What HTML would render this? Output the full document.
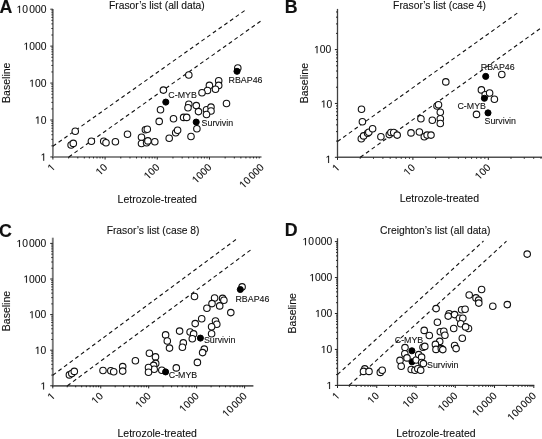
<!DOCTYPE html>
<html><head><meta charset="utf-8"><style>
html,body{margin:0;padding:0;background:#fff;width:542px;height:439px;overflow:hidden}
svg{display:block;filter:grayscale(1)}
text{font-family:"Liberation Sans",sans-serif;fill:#111;stroke:#111;stroke-width:0.1px}
</style></head><body>
<svg width="542" height="439" viewBox="0 0 542 439">
<defs><path id="one" fill="#111" stroke="#111" stroke-width="0.0097" d="M0.2515 0V-0.604L0.0962 -0.4932V-0.5762L0.2588 -0.688H0.3398V0Z"/></defs>
<rect width="542" height="439" fill="#fff"/>
<path d="M52.90,9.00V157.55" stroke="#7d7d7d" stroke-width="1.8" fill="none"/>
<path d="M52.30,156.95H261.50" stroke="#8a8a8a" stroke-width="1.9" fill="none"/>
<path d="M52.90,156.95v2.6M52.90,156.95h-2.6M68.61,156.95v1.5M52.90,145.83h-1.5M77.80,156.95v1.5M52.90,139.33h-1.5M84.32,156.95v1.5M52.90,134.71h-1.5M89.37,156.95v1.5M52.90,131.13h-1.5M93.50,156.95v1.5M52.90,128.21h-1.5M97.00,156.95v1.5M52.90,125.73h-1.5M100.02,156.95v1.5M52.90,123.59h-1.5M102.69,156.95v1.5M52.90,121.70h-1.5M105.08,156.95v2.6M52.90,120.01h-2.6M120.79,156.95v1.5M52.90,108.89h-1.5M129.98,156.95v1.5M52.90,102.39h-1.5M136.50,156.95v1.5M52.90,97.77h-1.5M141.55,156.95v1.5M52.90,94.19h-1.5M145.68,156.95v1.5M52.90,91.27h-1.5M149.18,156.95v1.5M52.90,88.79h-1.5M152.20,156.95v1.5M52.90,86.65h-1.5M154.87,156.95v1.5M52.90,84.76h-1.5M157.26,156.95v2.6M52.90,83.07h-2.6M172.97,156.95v1.5M52.90,71.95h-1.5M182.16,156.95v1.5M52.90,65.45h-1.5M188.68,156.95v1.5M52.90,60.83h-1.5M193.73,156.95v1.5M52.90,57.25h-1.5M197.86,156.95v1.5M52.90,54.33h-1.5M201.36,156.95v1.5M52.90,51.85h-1.5M204.38,156.95v1.5M52.90,49.71h-1.5M207.05,156.95v1.5M52.90,47.82h-1.5M209.44,156.95v2.6M52.90,46.13h-2.6M225.15,156.95v1.5M52.90,35.01h-1.5M234.34,156.95v1.5M52.90,28.51h-1.5M240.86,156.95v1.5M52.90,23.89h-1.5M245.91,156.95v1.5M52.90,20.31h-1.5M250.04,156.95v1.5M52.90,17.39h-1.5M253.54,156.95v1.5M52.90,14.91h-1.5M256.56,156.95v1.5M52.90,12.77h-1.5M259.23,156.95v1.5M52.90,10.88h-1.5M52.90,9.19h-2.6" stroke="#222" stroke-width="1" fill="none"/>
<g transform="translate(46.40 160.65)"><use href="#one" transform="translate(-5.73 0) scale(10.3)"/></g>
<g transform="translate(46.40 123.71)"><use href="#one" transform="translate(-11.46 0) scale(10.3)"/><text x="0" y="0" text-anchor="end" font-size="10.3">0</text></g>
<g transform="translate(46.40 86.77)"><use href="#one" transform="translate(-17.19 0) scale(10.3)"/><text x="0" y="0" text-anchor="end" font-size="10.3">00</text></g>
<g transform="translate(46.40 49.83)"><use href="#one" transform="translate(-22.91 0) scale(10.3)"/><text x="0" y="0" text-anchor="end" font-size="10.3">000</text></g>
<g transform="translate(46.40 12.89)"><use href="#one" transform="translate(-29.84 0) scale(10.3)"/><text x="0" y="0" text-anchor="end" font-size="10.3">0<tspan dx="1.2">000</tspan></text></g>
<g transform="translate(55.85 167.90) rotate(-45)"><use href="#one" transform="translate(-5.73 0) scale(10.3)"/></g>
<g transform="translate(108.03 167.90) rotate(-45)"><use href="#one" transform="translate(-11.46 0) scale(10.3)"/><text x="0" y="0" text-anchor="end" font-size="10.3">0</text></g>
<g transform="translate(160.21 167.90) rotate(-45)"><use href="#one" transform="translate(-17.19 0) scale(10.3)"/><text x="0" y="0" text-anchor="end" font-size="10.3">00</text></g>
<g transform="translate(212.39 167.90) rotate(-45)"><use href="#one" transform="translate(-22.91 0) scale(10.3)"/><text x="0" y="0" text-anchor="end" font-size="10.3">000</text></g>
<g transform="translate(264.57 167.90) rotate(-45)"><use href="#one" transform="translate(-29.84 0) scale(10.3)"/><text x="0" y="0" text-anchor="end" font-size="10.3">0<tspan dx="1.2">000</tspan></text></g>
<text x="156.9" y="9.3" text-anchor="middle" font-size="10.3">Frasor’s list (all data)</text>
<text x="157.25" y="202.6" text-anchor="middle" font-size="10.5">Letrozole-treated</text>
<text x="9.7" y="82.75" text-anchor="middle" font-size="10.5" transform="rotate(-90 9.7 82.75)">Baseline</text>
<text x="-0.57" y="12.5" font-size="17.8" font-weight="bold">A</text>
<path d="M52.9,146.3L244.9,10.4" stroke="#111" stroke-width="1.1" stroke-dasharray="3.9 3.1" fill="none"/>
<path d="M68.8,156.95L261.1,20.8" stroke="#111" stroke-width="1.1" stroke-dasharray="3.9 3.1" fill="none"/>
<circle cx="75.25" cy="131.2" r="3.25" fill="#fff" stroke="#111" stroke-width="1.1"/>
<circle cx="71.1" cy="145.0" r="3.25" fill="#fff" stroke="#111" stroke-width="1.1"/>
<circle cx="73.3" cy="143.4" r="3.25" fill="#fff" stroke="#111" stroke-width="1.1"/>
<circle cx="91.4" cy="141.2" r="3.25" fill="#fff" stroke="#111" stroke-width="1.1"/>
<circle cx="103.7" cy="141.2" r="3.25" fill="#fff" stroke="#111" stroke-width="1.1"/>
<circle cx="106.0" cy="142.8" r="3.25" fill="#fff" stroke="#111" stroke-width="1.1"/>
<circle cx="115.4" cy="141.8" r="3.25" fill="#fff" stroke="#111" stroke-width="1.1"/>
<circle cx="127.5" cy="134.3" r="3.25" fill="#fff" stroke="#111" stroke-width="1.1"/>
<circle cx="141.5" cy="137.3" r="3.25" fill="#fff" stroke="#111" stroke-width="1.1"/>
<circle cx="141.5" cy="143.5" r="3.25" fill="#fff" stroke="#111" stroke-width="1.1"/>
<circle cx="145.4" cy="129.8" r="3.25" fill="#fff" stroke="#111" stroke-width="1.1"/>
<circle cx="147.3" cy="129.3" r="3.25" fill="#fff" stroke="#111" stroke-width="1.1"/>
<circle cx="146.6" cy="142.7" r="3.25" fill="#fff" stroke="#111" stroke-width="1.1"/>
<circle cx="147.9" cy="140.9" r="3.25" fill="#fff" stroke="#111" stroke-width="1.1"/>
<circle cx="154.8" cy="141.8" r="3.25" fill="#fff" stroke="#111" stroke-width="1.1"/>
<circle cx="159.2" cy="121.4" r="3.25" fill="#fff" stroke="#111" stroke-width="1.1"/>
<circle cx="160.5" cy="109.8" r="3.25" fill="#fff" stroke="#111" stroke-width="1.1"/>
<circle cx="169.2" cy="138.3" r="3.25" fill="#fff" stroke="#111" stroke-width="1.1"/>
<circle cx="173.5" cy="118.8" r="3.25" fill="#fff" stroke="#111" stroke-width="1.1"/>
<circle cx="175.7" cy="132.8" r="3.25" fill="#fff" stroke="#111" stroke-width="1.1"/>
<circle cx="177.6" cy="130.2" r="3.25" fill="#fff" stroke="#111" stroke-width="1.1"/>
<circle cx="183.6" cy="117.4" r="3.25" fill="#fff" stroke="#111" stroke-width="1.1"/>
<circle cx="163.4" cy="90.1" r="3.25" fill="#fff" stroke="#111" stroke-width="1.1"/>
<circle cx="188.8" cy="75.0" r="3.25" fill="#fff" stroke="#111" stroke-width="1.1"/>
<circle cx="237.8" cy="68.0" r="3.25" fill="#fff" stroke="#111" stroke-width="1.1"/>
<circle cx="218.7" cy="80.8" r="3.25" fill="#fff" stroke="#111" stroke-width="1.1"/>
<circle cx="218.7" cy="85.4" r="3.25" fill="#fff" stroke="#111" stroke-width="1.1"/>
<circle cx="209.4" cy="85.4" r="3.25" fill="#fff" stroke="#111" stroke-width="1.1"/>
<circle cx="207.5" cy="90.5" r="3.25" fill="#fff" stroke="#111" stroke-width="1.1"/>
<circle cx="215.5" cy="89.2" r="3.25" fill="#fff" stroke="#111" stroke-width="1.1"/>
<circle cx="202.0" cy="92.8" r="3.25" fill="#fff" stroke="#111" stroke-width="1.1"/>
<circle cx="226.5" cy="103.5" r="3.25" fill="#fff" stroke="#111" stroke-width="1.1"/>
<circle cx="188.8" cy="104.3" r="3.25" fill="#fff" stroke="#111" stroke-width="1.1"/>
<circle cx="196.3" cy="105.6" r="3.25" fill="#fff" stroke="#111" stroke-width="1.1"/>
<circle cx="188.0" cy="107.7" r="3.25" fill="#fff" stroke="#111" stroke-width="1.1"/>
<circle cx="198.5" cy="111.6" r="3.25" fill="#fff" stroke="#111" stroke-width="1.1"/>
<circle cx="206.5" cy="109.7" r="3.25" fill="#fff" stroke="#111" stroke-width="1.1"/>
<circle cx="211.0" cy="107.1" r="3.25" fill="#fff" stroke="#111" stroke-width="1.1"/>
<circle cx="211.0" cy="111.0" r="3.25" fill="#fff" stroke="#111" stroke-width="1.1"/>
<circle cx="206.5" cy="114.5" r="3.25" fill="#fff" stroke="#111" stroke-width="1.1"/>
<circle cx="186.7" cy="117.4" r="3.25" fill="#fff" stroke="#111" stroke-width="1.1"/>
<circle cx="196.9" cy="128.8" r="3.25" fill="#fff" stroke="#111" stroke-width="1.1"/>
<circle cx="191.0" cy="136.5" r="3.25" fill="#fff" stroke="#111" stroke-width="1.1"/>
<circle cx="165.8" cy="102.1" r="3.05" fill="#000" stroke="#000" stroke-width="1.0"/>
<circle cx="237.0" cy="71.3" r="3.05" fill="#000" stroke="#000" stroke-width="1.0"/>
<circle cx="196.2" cy="122.1" r="3.05" fill="#000" stroke="#000" stroke-width="1.0"/>
<path d="M337.50,8.90V157.90" stroke="#404040" stroke-width="1.3" fill="none"/>
<path d="M336.90,157.30H542.00" stroke="#505050" stroke-width="1.5" fill="none"/>
<path d="M337.50,157.30v2.6M337.50,157.30h-2.6M360.20,157.30v1.5M337.50,141.09h-1.5M373.47,157.30v1.5M337.50,131.61h-1.5M382.90,157.30v1.5M337.50,124.88h-1.5M390.20,157.30v1.5M337.50,119.66h-1.5M396.17,157.30v1.5M337.50,115.40h-1.5M401.22,157.30v1.5M337.50,111.79h-1.5M405.59,157.30v1.5M337.50,108.67h-1.5M409.45,157.30v1.5M337.50,105.91h-1.5M412.90,157.30v2.6M337.50,103.45h-2.6M435.60,157.30v1.5M337.50,87.24h-1.5M448.87,157.30v1.5M337.50,77.76h-1.5M458.30,157.30v1.5M337.50,71.03h-1.5M465.60,157.30v1.5M337.50,65.81h-1.5M471.57,157.30v1.5M337.50,61.55h-1.5M476.62,157.30v1.5M337.50,57.94h-1.5M480.99,157.30v1.5M337.50,54.82h-1.5M484.85,157.30v1.5M337.50,52.06h-1.5M488.30,157.30v2.6M337.50,49.60h-2.6M511.00,157.30v1.5M337.50,33.39h-1.5M524.27,157.30v1.5M337.50,23.91h-1.5M533.70,157.30v1.5M337.50,17.18h-1.5M541.00,157.30v1.5M337.50,11.96h-1.5" stroke="#222" stroke-width="1" fill="none"/>
<g transform="translate(331.30 162.90)"><use href="#one" transform="translate(-5.73 0) scale(10.3)"/></g>
<g transform="translate(332.30 107.55)"><use href="#one" transform="translate(-11.46 0) scale(10.3)"/><text x="0" y="0" text-anchor="end" font-size="10.3">0</text></g>
<g transform="translate(331.20 53.20)"><use href="#one" transform="translate(-17.19 0) scale(10.3)"/><text x="0" y="0" text-anchor="end" font-size="10.3">00</text></g>
<g transform="translate(340.45 168.25) rotate(-45)"><use href="#one" transform="translate(-5.73 0) scale(10.3)"/></g>
<g transform="translate(415.85 168.25) rotate(-45)"><use href="#one" transform="translate(-11.46 0) scale(10.3)"/><text x="0" y="0" text-anchor="end" font-size="10.3">0</text></g>
<g transform="translate(491.25 168.25) rotate(-45)"><use href="#one" transform="translate(-17.19 0) scale(10.3)"/><text x="0" y="0" text-anchor="end" font-size="10.3">00</text></g>
<text x="439.55" y="9.3" text-anchor="middle" font-size="10.3">Frasor’s list (case 4)</text>
<text x="439.35" y="202.3" text-anchor="middle" font-size="10.5">Letrozole-treated</text>
<text x="308.0" y="83.15" text-anchor="middle" font-size="10.5" transform="rotate(-90 308.0 83.15)">Baseline</text>
<text x="284.7" y="12.5" font-size="17.8" font-weight="bold">B</text>
<path d="M337.5,141.5L518.9,12.0" stroke="#111" stroke-width="1.1" stroke-dasharray="3.9 3.1" fill="none"/>
<path d="M360.3,157.3L546,24.4" stroke="#111" stroke-width="1.1" stroke-dasharray="3.9 3.1" fill="none"/>
<circle cx="361.5" cy="109.3" r="3.25" fill="#fff" stroke="#111" stroke-width="1.1"/>
<circle cx="362.4" cy="121.7" r="3.25" fill="#fff" stroke="#111" stroke-width="1.1"/>
<circle cx="361.3" cy="138.8" r="3.25" fill="#fff" stroke="#111" stroke-width="1.1"/>
<circle cx="363.6" cy="135.9" r="3.25" fill="#fff" stroke="#111" stroke-width="1.1"/>
<circle cx="367.6" cy="133.2" r="3.25" fill="#fff" stroke="#111" stroke-width="1.1"/>
<circle cx="368.8" cy="132.2" r="3.25" fill="#fff" stroke="#111" stroke-width="1.1"/>
<circle cx="372.6" cy="128.8" r="3.25" fill="#fff" stroke="#111" stroke-width="1.1"/>
<circle cx="380.9" cy="136.8" r="3.25" fill="#fff" stroke="#111" stroke-width="1.1"/>
<circle cx="389.3" cy="134.6" r="3.25" fill="#fff" stroke="#111" stroke-width="1.1"/>
<circle cx="390.9" cy="132.5" r="3.25" fill="#fff" stroke="#111" stroke-width="1.1"/>
<circle cx="393.7" cy="132.5" r="3.25" fill="#fff" stroke="#111" stroke-width="1.1"/>
<circle cx="397.2" cy="135.1" r="3.25" fill="#fff" stroke="#111" stroke-width="1.1"/>
<circle cx="411.0" cy="132.9" r="3.25" fill="#fff" stroke="#111" stroke-width="1.1"/>
<circle cx="419.4" cy="132.0" r="3.25" fill="#fff" stroke="#111" stroke-width="1.1"/>
<circle cx="424.3" cy="136.8" r="3.25" fill="#fff" stroke="#111" stroke-width="1.1"/>
<circle cx="427.1" cy="135.1" r="3.25" fill="#fff" stroke="#111" stroke-width="1.1"/>
<circle cx="431.0" cy="135.1" r="3.25" fill="#fff" stroke="#111" stroke-width="1.1"/>
<circle cx="420.9" cy="118.7" r="3.25" fill="#fff" stroke="#111" stroke-width="1.1"/>
<circle cx="432.3" cy="120.3" r="3.25" fill="#fff" stroke="#111" stroke-width="1.1"/>
<circle cx="437.0" cy="106.0" r="3.25" fill="#fff" stroke="#111" stroke-width="1.1"/>
<circle cx="438.5" cy="104.8" r="3.25" fill="#fff" stroke="#111" stroke-width="1.1"/>
<circle cx="440.3" cy="112.3" r="3.25" fill="#fff" stroke="#111" stroke-width="1.1"/>
<circle cx="440.3" cy="118.7" r="3.25" fill="#fff" stroke="#111" stroke-width="1.1"/>
<circle cx="440.3" cy="123.5" r="3.25" fill="#fff" stroke="#111" stroke-width="1.1"/>
<circle cx="445.8" cy="81.9" r="3.25" fill="#fff" stroke="#111" stroke-width="1.1"/>
<circle cx="481.4" cy="89.9" r="3.25" fill="#fff" stroke="#111" stroke-width="1.1"/>
<circle cx="485.2" cy="94.7" r="3.25" fill="#fff" stroke="#111" stroke-width="1.1"/>
<circle cx="489.6" cy="93.0" r="3.25" fill="#fff" stroke="#111" stroke-width="1.1"/>
<circle cx="494.4" cy="99.3" r="3.25" fill="#fff" stroke="#111" stroke-width="1.1"/>
<circle cx="476.5" cy="114.4" r="3.25" fill="#fff" stroke="#111" stroke-width="1.1"/>
<circle cx="501.8" cy="74.5" r="3.25" fill="#fff" stroke="#111" stroke-width="1.1"/>
<circle cx="485.7" cy="76.4" r="3.05" fill="#000" stroke="#000" stroke-width="1.0"/>
<circle cx="484.4" cy="98.3" r="3.05" fill="#000" stroke="#000" stroke-width="1.0"/>
<circle cx="488.0" cy="112.9" r="3.05" fill="#000" stroke="#000" stroke-width="1.0"/>
<path d="M52.80,237.70V386.40" stroke="#7a7a7a" stroke-width="1.9" fill="none"/>
<path d="M52.20,385.80H253.40" stroke="#5a5a5a" stroke-width="1.7" fill="none"/>
<path d="M52.80,385.80v2.6M52.80,385.80h-2.6M67.23,385.80v1.5M52.80,375.08h-1.5M75.68,385.80v1.5M52.80,368.81h-1.5M81.67,385.80v1.5M52.80,364.37h-1.5M86.32,385.80v1.5M52.80,360.92h-1.5M90.11,385.80v1.5M52.80,358.10h-1.5M93.32,385.80v1.5M52.80,355.71h-1.5M96.10,385.80v1.5M52.80,353.65h-1.5M98.56,385.80v1.5M52.80,351.83h-1.5M100.75,385.80v2.6M52.80,350.20h-2.6M115.18,385.80v1.5M52.80,339.48h-1.5M123.63,385.80v1.5M52.80,333.21h-1.5M129.62,385.80v1.5M52.80,328.77h-1.5M134.27,385.80v1.5M52.80,325.32h-1.5M138.06,385.80v1.5M52.80,322.50h-1.5M141.27,385.80v1.5M52.80,320.11h-1.5M144.05,385.80v1.5M52.80,318.05h-1.5M146.51,385.80v1.5M52.80,316.23h-1.5M148.70,385.80v2.6M52.80,314.60h-2.6M163.13,385.80v1.5M52.80,303.88h-1.5M171.58,385.80v1.5M52.80,297.61h-1.5M177.57,385.80v1.5M52.80,293.17h-1.5M182.22,385.80v1.5M52.80,289.72h-1.5M186.01,385.80v1.5M52.80,286.90h-1.5M189.22,385.80v1.5M52.80,284.51h-1.5M192.00,385.80v1.5M52.80,282.45h-1.5M194.46,385.80v1.5M52.80,280.63h-1.5M196.65,385.80v2.6M52.80,279.00h-2.6M211.08,385.80v1.5M52.80,268.28h-1.5M219.53,385.80v1.5M52.80,262.01h-1.5M225.52,385.80v1.5M52.80,257.57h-1.5M230.17,385.80v1.5M52.80,254.12h-1.5M233.96,385.80v1.5M52.80,251.30h-1.5M237.17,385.80v1.5M52.80,248.91h-1.5M239.95,385.80v1.5M52.80,246.85h-1.5M242.41,385.80v1.5M52.80,245.03h-1.5M244.60,385.80v2.6M52.80,243.40h-2.6" stroke="#222" stroke-width="1" fill="none"/>
<g transform="translate(46.30 389.50)"><use href="#one" transform="translate(-5.73 0) scale(10.3)"/></g>
<g transform="translate(46.30 353.90)"><use href="#one" transform="translate(-11.46 0) scale(10.3)"/><text x="0" y="0" text-anchor="end" font-size="10.3">0</text></g>
<g transform="translate(46.30 318.30)"><use href="#one" transform="translate(-17.19 0) scale(10.3)"/><text x="0" y="0" text-anchor="end" font-size="10.3">00</text></g>
<g transform="translate(46.30 282.70)"><use href="#one" transform="translate(-22.91 0) scale(10.3)"/><text x="0" y="0" text-anchor="end" font-size="10.3">000</text></g>
<g transform="translate(46.30 247.10)"><use href="#one" transform="translate(-29.84 0) scale(10.3)"/><text x="0" y="0" text-anchor="end" font-size="10.3">0<tspan dx="1.2">000</tspan></text></g>
<g transform="translate(55.75 396.75) rotate(-45)"><use href="#one" transform="translate(-5.73 0) scale(10.3)"/></g>
<g transform="translate(103.70 396.75) rotate(-45)"><use href="#one" transform="translate(-11.46 0) scale(10.3)"/><text x="0" y="0" text-anchor="end" font-size="10.3">0</text></g>
<g transform="translate(151.65 396.75) rotate(-45)"><use href="#one" transform="translate(-17.19 0) scale(10.3)"/><text x="0" y="0" text-anchor="end" font-size="10.3">00</text></g>
<g transform="translate(199.60 396.75) rotate(-45)"><use href="#one" transform="translate(-22.91 0) scale(10.3)"/><text x="0" y="0" text-anchor="end" font-size="10.3">000</text></g>
<g transform="translate(247.55 396.75) rotate(-45)"><use href="#one" transform="translate(-29.84 0) scale(10.3)"/><text x="0" y="0" text-anchor="end" font-size="10.3">0<tspan dx="1.2">000</tspan></text></g>
<text x="153.1" y="233.5" text-anchor="middle" font-size="10.3">Frasor’s list (case 8)</text>
<text x="157.15" y="436.7" text-anchor="middle" font-size="10.5">Letrozole-treated</text>
<text x="9.9" y="311.05" text-anchor="middle" font-size="10.5" transform="rotate(-90 9.9 311.05)">Baseline</text>
<text x="-0.97" y="236.6" font-size="17.8" font-weight="bold">C</text>
<path d="M52.8,375.2L237.3,238.5" stroke="#111" stroke-width="1.1" stroke-dasharray="3.9 3.1" fill="none"/>
<path d="M67.4,385.8L251.7,249.2" stroke="#111" stroke-width="1.1" stroke-dasharray="3.9 3.1" fill="none"/>
<circle cx="69.4" cy="374.9" r="3.25" fill="#fff" stroke="#111" stroke-width="1.1"/>
<circle cx="71.8" cy="373.5" r="3.25" fill="#fff" stroke="#111" stroke-width="1.1"/>
<circle cx="74.3" cy="371.4" r="3.25" fill="#fff" stroke="#111" stroke-width="1.1"/>
<circle cx="103.0" cy="370.5" r="3.25" fill="#fff" stroke="#111" stroke-width="1.1"/>
<circle cx="110.8" cy="370.8" r="3.25" fill="#fff" stroke="#111" stroke-width="1.1"/>
<circle cx="113.7" cy="371.7" r="3.25" fill="#fff" stroke="#111" stroke-width="1.1"/>
<circle cx="122.7" cy="366.6" r="3.25" fill="#fff" stroke="#111" stroke-width="1.1"/>
<circle cx="122.7" cy="371.1" r="3.25" fill="#fff" stroke="#111" stroke-width="1.1"/>
<circle cx="135.4" cy="360.8" r="3.25" fill="#fff" stroke="#111" stroke-width="1.1"/>
<circle cx="149.4" cy="353.3" r="3.25" fill="#fff" stroke="#111" stroke-width="1.1"/>
<circle cx="155.5" cy="356.9" r="3.25" fill="#fff" stroke="#111" stroke-width="1.1"/>
<circle cx="155.7" cy="363.4" r="3.25" fill="#fff" stroke="#111" stroke-width="1.1"/>
<circle cx="153.6" cy="365.4" r="3.25" fill="#fff" stroke="#111" stroke-width="1.1"/>
<circle cx="154.2" cy="369.2" r="3.25" fill="#fff" stroke="#111" stroke-width="1.1"/>
<circle cx="148.5" cy="367.5" r="3.25" fill="#fff" stroke="#111" stroke-width="1.1"/>
<circle cx="148.5" cy="372.2" r="3.25" fill="#fff" stroke="#111" stroke-width="1.1"/>
<circle cx="161.8" cy="370.3" r="3.25" fill="#fff" stroke="#111" stroke-width="1.1"/>
<circle cx="176.3" cy="367.9" r="3.25" fill="#fff" stroke="#111" stroke-width="1.1"/>
<circle cx="165.6" cy="334.9" r="3.25" fill="#fff" stroke="#111" stroke-width="1.1"/>
<circle cx="167.3" cy="341.0" r="3.25" fill="#fff" stroke="#111" stroke-width="1.1"/>
<circle cx="169.5" cy="348.1" r="3.25" fill="#fff" stroke="#111" stroke-width="1.1"/>
<circle cx="183.3" cy="342.9" r="3.25" fill="#fff" stroke="#111" stroke-width="1.1"/>
<circle cx="182.4" cy="347.2" r="3.25" fill="#fff" stroke="#111" stroke-width="1.1"/>
<circle cx="179.6" cy="331.1" r="3.25" fill="#fff" stroke="#111" stroke-width="1.1"/>
<circle cx="194.5" cy="296.5" r="3.25" fill="#fff" stroke="#111" stroke-width="1.1"/>
<circle cx="214.6" cy="298.0" r="3.25" fill="#fff" stroke="#111" stroke-width="1.1"/>
<circle cx="222.6" cy="298.4" r="3.25" fill="#fff" stroke="#111" stroke-width="1.1"/>
<circle cx="223.9" cy="300.3" r="3.25" fill="#fff" stroke="#111" stroke-width="1.1"/>
<circle cx="212.0" cy="303.6" r="3.25" fill="#fff" stroke="#111" stroke-width="1.1"/>
<circle cx="219.7" cy="305.9" r="3.25" fill="#fff" stroke="#111" stroke-width="1.1"/>
<circle cx="206.9" cy="308.3" r="3.25" fill="#fff" stroke="#111" stroke-width="1.1"/>
<circle cx="230.8" cy="312.6" r="3.25" fill="#fff" stroke="#111" stroke-width="1.1"/>
<circle cx="201.7" cy="318.7" r="3.25" fill="#fff" stroke="#111" stroke-width="1.1"/>
<circle cx="195.2" cy="323.6" r="3.25" fill="#fff" stroke="#111" stroke-width="1.1"/>
<circle cx="215.5" cy="321.0" r="3.25" fill="#fff" stroke="#111" stroke-width="1.1"/>
<circle cx="216.8" cy="324.2" r="3.25" fill="#fff" stroke="#111" stroke-width="1.1"/>
<circle cx="211.6" cy="326.8" r="3.25" fill="#fff" stroke="#111" stroke-width="1.1"/>
<circle cx="211.6" cy="333.7" r="3.25" fill="#fff" stroke="#111" stroke-width="1.1"/>
<circle cx="190.1" cy="332.0" r="3.25" fill="#fff" stroke="#111" stroke-width="1.1"/>
<circle cx="193.6" cy="333.9" r="3.25" fill="#fff" stroke="#111" stroke-width="1.1"/>
<circle cx="192.3" cy="338.8" r="3.25" fill="#fff" stroke="#111" stroke-width="1.1"/>
<circle cx="204.3" cy="349.1" r="3.25" fill="#fff" stroke="#111" stroke-width="1.1"/>
<circle cx="202.6" cy="352.6" r="3.25" fill="#fff" stroke="#111" stroke-width="1.1"/>
<circle cx="197.4" cy="362.4" r="3.25" fill="#fff" stroke="#111" stroke-width="1.1"/>
<circle cx="242.1" cy="286.9" r="3.25" fill="#fff" stroke="#111" stroke-width="1.1"/>
<circle cx="165.6" cy="371.9" r="3.05" fill="#000" stroke="#000" stroke-width="1.0"/>
<circle cx="200.4" cy="338.1" r="3.05" fill="#000" stroke="#000" stroke-width="1.0"/>
<circle cx="240.3" cy="289.5" r="3.05" fill="#000" stroke="#000" stroke-width="1.0"/>
<path d="M337.50,238.20V386.00" stroke="#404040" stroke-width="1.3" fill="none"/>
<path d="M336.90,385.40H534.30" stroke="#383838" stroke-width="1.3" fill="none"/>
<path d="M337.50,385.40v2.6M337.50,385.40h-2.6M349.32,385.40v1.5M337.50,374.58h-1.5M356.23,385.40v1.5M337.50,368.25h-1.5M361.14,385.40v1.5M337.50,363.76h-1.5M364.94,385.40v1.5M337.50,360.27h-1.5M368.05,385.40v1.5M337.50,357.43h-1.5M370.68,385.40v1.5M337.50,355.02h-1.5M372.96,385.40v1.5M337.50,352.93h-1.5M374.96,385.40v1.5M337.50,351.09h-1.5M376.76,385.40v2.6M337.50,349.45h-2.6M388.58,385.40v1.5M337.50,338.63h-1.5M395.49,385.40v1.5M337.50,332.30h-1.5M400.40,385.40v1.5M337.50,327.81h-1.5M404.20,385.40v1.5M337.50,324.32h-1.5M407.31,385.40v1.5M337.50,321.48h-1.5M409.94,385.40v1.5M337.50,319.07h-1.5M412.22,385.40v1.5M337.50,316.98h-1.5M414.22,385.40v1.5M337.50,315.14h-1.5M416.02,385.40v2.6M337.50,313.50h-2.6M427.84,385.40v1.5M337.50,302.68h-1.5M434.75,385.40v1.5M337.50,296.35h-1.5M439.66,385.40v1.5M337.50,291.86h-1.5M443.46,385.40v1.5M337.50,288.37h-1.5M446.57,385.40v1.5M337.50,285.53h-1.5M449.20,385.40v1.5M337.50,283.12h-1.5M451.48,385.40v1.5M337.50,281.03h-1.5M453.48,385.40v1.5M337.50,279.19h-1.5M455.28,385.40v2.6M337.50,277.55h-2.6M467.10,385.40v1.5M337.50,266.73h-1.5M474.01,385.40v1.5M337.50,260.40h-1.5M478.92,385.40v1.5M337.50,255.91h-1.5M482.72,385.40v1.5M337.50,252.42h-1.5M485.83,385.40v1.5M337.50,249.58h-1.5M488.46,385.40v1.5M337.50,247.17h-1.5M490.74,385.40v1.5M337.50,245.08h-1.5M492.74,385.40v1.5M337.50,243.24h-1.5M494.54,385.40v2.6M337.50,241.60h-2.6M506.36,385.40v1.5M513.27,385.40v1.5M518.18,385.40v1.5M521.98,385.40v1.5M525.09,385.40v1.5M527.72,385.40v1.5M530.00,385.40v1.5M532.00,385.40v1.5M533.80,385.40v2.6" stroke="#222" stroke-width="1" fill="none"/>
<g transform="translate(332.30 389.00)"><use href="#one" transform="translate(-5.73 0) scale(10.3)"/></g>
<g transform="translate(332.30 353.05)"><use href="#one" transform="translate(-11.46 0) scale(10.3)"/><text x="0" y="0" text-anchor="end" font-size="10.3">0</text></g>
<g transform="translate(332.30 317.10)"><use href="#one" transform="translate(-17.19 0) scale(10.3)"/><text x="0" y="0" text-anchor="end" font-size="10.3">00</text></g>
<g transform="translate(332.30 281.15)"><use href="#one" transform="translate(-22.91 0) scale(10.3)"/><text x="0" y="0" text-anchor="end" font-size="10.3">000</text></g>
<g transform="translate(332.30 245.20)"><use href="#one" transform="translate(-29.84 0) scale(10.3)"/><text x="0" y="0" text-anchor="end" font-size="10.3">0<tspan dx="1.2">000</tspan></text></g>
<g transform="translate(340.45 396.35) rotate(-45)"><use href="#one" transform="translate(-5.73 0) scale(10.3)"/></g>
<g transform="translate(379.71 396.35) rotate(-45)"><use href="#one" transform="translate(-11.46 0) scale(10.3)"/><text x="0" y="0" text-anchor="end" font-size="10.3">0</text></g>
<g transform="translate(418.97 396.35) rotate(-45)"><use href="#one" transform="translate(-17.19 0) scale(10.3)"/><text x="0" y="0" text-anchor="end" font-size="10.3">00</text></g>
<g transform="translate(458.23 396.35) rotate(-45)"><use href="#one" transform="translate(-22.91 0) scale(10.3)"/><text x="0" y="0" text-anchor="end" font-size="10.3">000</text></g>
<g transform="translate(497.49 396.35) rotate(-45)"><use href="#one" transform="translate(-29.84 0) scale(10.3)"/><text x="0" y="0" text-anchor="end" font-size="10.3">0<tspan dx="1.2">000</tspan></text></g>
<g transform="translate(536.75 396.35) rotate(-45)"><use href="#one" transform="translate(-35.57 0) scale(10.3)"/><text x="0" y="0" text-anchor="end" font-size="10.3">00<tspan dx="1.2">000</tspan></text></g>
<text x="435.25" y="233.5" text-anchor="middle" font-size="10.3">Creighton’s list (all data)</text>
<text x="435.9" y="436.7" text-anchor="middle" font-size="10.5">Letrozole-treated</text>
<text x="295.9" y="313.3" text-anchor="middle" font-size="10.5" transform="rotate(-90 295.9 313.3)">Baseline</text>
<text x="284.7" y="236.1" font-size="17.8" font-weight="bold">D</text>
<path d="M337.5,374.6L483.5,241.0" stroke="#111" stroke-width="1.1" stroke-dasharray="3.9 3.1" fill="none"/>
<path d="M349.3,385.2L506.5,241.2" stroke="#111" stroke-width="1.1" stroke-dasharray="3.9 3.1" fill="none"/>
<circle cx="411.9" cy="350.8" r="3.05" fill="#000" stroke="#000" stroke-width="1.0"/>
<circle cx="412.0" cy="361.8" r="3.05" fill="#000" stroke="#000" stroke-width="1.0"/>
<circle cx="364.8" cy="368.9" r="3.25" fill="#fff" stroke="#111" stroke-width="1.1"/>
<circle cx="363.5" cy="371.4" r="3.25" fill="#fff" stroke="#111" stroke-width="1.1"/>
<circle cx="369.0" cy="371.4" r="3.25" fill="#fff" stroke="#111" stroke-width="1.1"/>
<circle cx="380.3" cy="372.4" r="3.25" fill="#fff" stroke="#111" stroke-width="1.1"/>
<circle cx="382.2" cy="370.2" r="3.25" fill="#fff" stroke="#111" stroke-width="1.1"/>
<circle cx="405.0" cy="347.6" r="3.25" fill="#fff" stroke="#111" stroke-width="1.1"/>
<circle cx="404.8" cy="353.7" r="3.25" fill="#fff" stroke="#111" stroke-width="1.1"/>
<circle cx="407.0" cy="357.9" r="3.25" fill="#fff" stroke="#111" stroke-width="1.1"/>
<circle cx="400.0" cy="360.4" r="3.25" fill="#fff" stroke="#111" stroke-width="1.1"/>
<circle cx="401.2" cy="366.2" r="3.25" fill="#fff" stroke="#111" stroke-width="1.1"/>
<circle cx="416.2" cy="360.0" r="3.25" fill="#fff" stroke="#111" stroke-width="1.1"/>
<circle cx="418.7" cy="354.6" r="3.25" fill="#fff" stroke="#111" stroke-width="1.1"/>
<circle cx="421.6" cy="357.1" r="3.25" fill="#fff" stroke="#111" stroke-width="1.1"/>
<circle cx="421.6" cy="362.5" r="3.25" fill="#fff" stroke="#111" stroke-width="1.1"/>
<circle cx="423.4" cy="363.6" r="3.25" fill="#fff" stroke="#111" stroke-width="1.1"/>
<circle cx="411.2" cy="369.5" r="3.25" fill="#fff" stroke="#111" stroke-width="1.1"/>
<circle cx="414.9" cy="370.3" r="3.25" fill="#fff" stroke="#111" stroke-width="1.1"/>
<circle cx="417.8" cy="368.7" r="3.25" fill="#fff" stroke="#111" stroke-width="1.1"/>
<circle cx="420.7" cy="370.3" r="3.25" fill="#fff" stroke="#111" stroke-width="1.1"/>
<circle cx="423.0" cy="347.3" r="3.25" fill="#fff" stroke="#111" stroke-width="1.1"/>
<circle cx="424.8" cy="346.4" r="3.25" fill="#fff" stroke="#111" stroke-width="1.1"/>
<circle cx="429.3" cy="335.5" r="3.25" fill="#fff" stroke="#111" stroke-width="1.1"/>
<circle cx="424.2" cy="330.4" r="3.25" fill="#fff" stroke="#111" stroke-width="1.1"/>
<circle cx="436.1" cy="308.6" r="3.25" fill="#fff" stroke="#111" stroke-width="1.1"/>
<circle cx="437.4" cy="322.2" r="3.25" fill="#fff" stroke="#111" stroke-width="1.1"/>
<circle cx="440.3" cy="331.7" r="3.25" fill="#fff" stroke="#111" stroke-width="1.1"/>
<circle cx="443.8" cy="331.2" r="3.25" fill="#fff" stroke="#111" stroke-width="1.1"/>
<circle cx="444.9" cy="335.3" r="3.25" fill="#fff" stroke="#111" stroke-width="1.1"/>
<circle cx="439.7" cy="341.4" r="3.25" fill="#fff" stroke="#111" stroke-width="1.1"/>
<circle cx="435.4" cy="344.4" r="3.25" fill="#fff" stroke="#111" stroke-width="1.1"/>
<circle cx="436.0" cy="349.4" r="3.25" fill="#fff" stroke="#111" stroke-width="1.1"/>
<circle cx="441.3" cy="348.6" r="3.25" fill="#fff" stroke="#111" stroke-width="1.1"/>
<circle cx="442.8" cy="349.6" r="3.25" fill="#fff" stroke="#111" stroke-width="1.1"/>
<circle cx="454.6" cy="345.5" r="3.25" fill="#fff" stroke="#111" stroke-width="1.1"/>
<circle cx="456.1" cy="348.6" r="3.25" fill="#fff" stroke="#111" stroke-width="1.1"/>
<circle cx="462.3" cy="338.3" r="3.25" fill="#fff" stroke="#111" stroke-width="1.1"/>
<circle cx="453.7" cy="328.5" r="3.25" fill="#fff" stroke="#111" stroke-width="1.1"/>
<circle cx="468.5" cy="328.5" r="3.25" fill="#fff" stroke="#111" stroke-width="1.1"/>
<circle cx="461.6" cy="309.8" r="3.25" fill="#fff" stroke="#111" stroke-width="1.1"/>
<circle cx="465.1" cy="309.2" r="3.25" fill="#fff" stroke="#111" stroke-width="1.1"/>
<circle cx="449.1" cy="313.8" r="3.25" fill="#fff" stroke="#111" stroke-width="1.1"/>
<circle cx="448.2" cy="316.1" r="3.25" fill="#fff" stroke="#111" stroke-width="1.1"/>
<circle cx="454.6" cy="314.6" r="3.25" fill="#fff" stroke="#111" stroke-width="1.1"/>
<circle cx="459.4" cy="318.3" r="3.25" fill="#fff" stroke="#111" stroke-width="1.1"/>
<circle cx="462.8" cy="318.3" r="3.25" fill="#fff" stroke="#111" stroke-width="1.1"/>
<circle cx="460.7" cy="323.7" r="3.25" fill="#fff" stroke="#111" stroke-width="1.1"/>
<circle cx="465.6" cy="326.9" r="3.25" fill="#fff" stroke="#111" stroke-width="1.1"/>
<circle cx="469.2" cy="295.0" r="3.25" fill="#fff" stroke="#111" stroke-width="1.1"/>
<circle cx="476.0" cy="297.9" r="3.25" fill="#fff" stroke="#111" stroke-width="1.1"/>
<circle cx="478.6" cy="300.1" r="3.25" fill="#fff" stroke="#111" stroke-width="1.1"/>
<circle cx="478.8" cy="303.1" r="3.25" fill="#fff" stroke="#111" stroke-width="1.1"/>
<circle cx="481.6" cy="289.5" r="3.25" fill="#fff" stroke="#111" stroke-width="1.1"/>
<circle cx="492.8" cy="306.2" r="3.25" fill="#fff" stroke="#111" stroke-width="1.1"/>
<circle cx="507.3" cy="304.6" r="3.25" fill="#fff" stroke="#111" stroke-width="1.1"/>
<circle cx="527.2" cy="254.1" r="3.25" fill="#fff" stroke="#111" stroke-width="1.1"/>
<text x="168.36" y="98.1" font-size="8.85">C-MYB</text>
<text x="228.59" y="82.5" font-size="8.85">RBAP46</text>
<text x="201.60" y="125.7" font-size="8.85">Survivin</text>
<text x="480.79" y="69.7" font-size="8.85">RBAP46</text>
<text x="457.46" y="109.1" font-size="8.85">C-MYB</text>
<text x="484.50" y="124.4" font-size="8.85">Survivin</text>
<text x="235.49" y="301.7" font-size="8.85">RBAP46</text>
<text x="203.90" y="343.3" font-size="8.85">Survivin</text>
<text x="168.76" y="377.6" font-size="8.85">C-MYB</text>
<text x="394.76" y="342.8" font-size="8.85">C-MYB</text>
<text x="427.00" y="368.1" font-size="8.85">Survivin</text>
</svg>
</body></html>
